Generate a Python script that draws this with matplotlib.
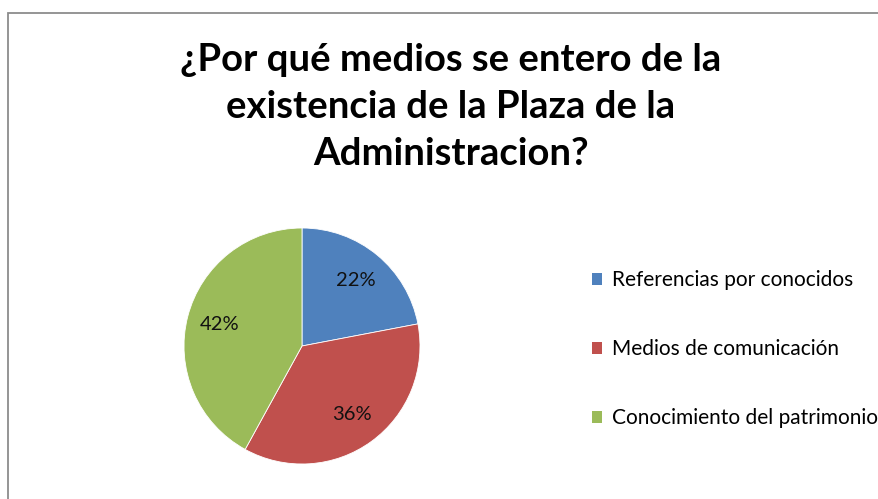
import matplotlib.pyplot as plt
from matplotlib.patches import Rectangle, Patch

# datos del grafico
categorias = ["Referencias por conocidos", "Medios de comunicación", "Conocimiento del patrimonio"]
porcentajes = [22, 36, 42]
colores = ["#4F81BD", "#C0504D", "#9BBB59"]
titulo = "¿Por qué medios se entero de la\nexistencia de la Plaza de la\nAdministracion?"

plt.rcParams["font.family"] = ["Lato", "DejaVu Sans"]

W, H = 879, 499
fig = plt.figure(figsize=(W / 100, H / 100), dpi=100)

# marco gris del area del grafico
fig.patches.append(Rectangle((8 / W, -0.1), 1.2, 1 - 13 / H + 0.1, transform=fig.transFigure,
                             fill=False, edgecolor="#8c8c8c", linewidth=1.3))

# pastel
cx, cy, r = 302, 346, 118
ax = fig.add_axes([(cx - r) / W, (H - cy - r) / H, 2 * r / W, 2 * r / H])
wedges, texts, autotexts = ax.pie(porcentajes, colors=colores, startangle=90, counterclock=False,
                                  autopct="%d%%", pctdistance=0.72,
                                  wedgeprops=dict(edgecolor="white", linewidth=0.6),
                                  textprops=dict(fontsize=14.5, color="#111111"))
ax.set_xlim(-1, 1)
ax.set_ylim(-1, 1)
ax.set_aspect("auto")
ax.axis("off")

# leyenda
handles = [Patch(facecolor=c, edgecolor="none") for c in colores]
fig.legend(handles, categorias, loc="center left", bbox_to_anchor=(592 / W, 1 - 349 / H),
           frameon=False, fontsize=15, handlelength=0.5, handleheight=0.5,
           handletextpad=0.45, labelspacing=2.35, borderpad=0, borderaxespad=0)

fig.text(451 / W, 1 - 107 / H, titulo, ha="center", va="center", fontsize=27.5,
         fontweight="bold", linespacing=1.45)

plt.savefig("out.png", dpi=100)
